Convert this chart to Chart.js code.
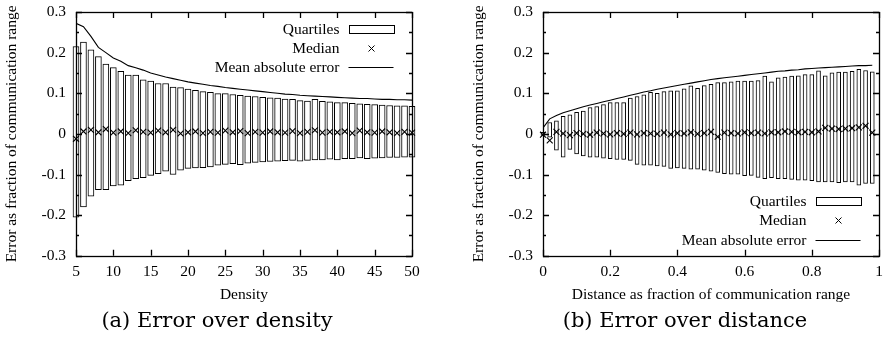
<!DOCTYPE html>
<html>
<head>
<meta charset="utf-8">
<script src="https://cdn.jsdelivr.net/npm/chart.js@4/dist/chart.umd.min.js"></script>
<style>
  html, body { margin: 0; padding: 0; background: #fff; }
  #wrap { position: relative; width: 886px; height: 340px; }
  .box { position: absolute; top: 0; width: 443px; height: 340px; }
  .caption { position: absolute; top: 307px; width: 320px; text-align: center;
             font-family: "DejaVu Serif", serif; font-size: 21px; line-height: 26px; color: #000; }
</style>
</head>
<body>
<div id="wrap">
  <div class="box" style="left:0"><canvas id="densityChart" width="443" height="340"></canvas></div>
  <div class="box" style="left:443px"><canvas id="distanceChart" width="443" height="340"></canvas></div>
  <div class="caption" style="left:57px">(a) Error over density</div>
  <div class="caption" style="left:525px">(b) Error over distance</div>
</div>
<script>
// (a) error over density
const densities = [5, 6, 7, 8, 9, 10, 11, 12, 13, 14, 15, 16, 17, 18, 19, 20, 21, 22, 23, 24, 25, 26, 27,
  28, 29, 30, 31, 32, 33, 34, 35, 36, 37, 38, 39, 40, 41, 42, 43, 44, 45, 46, 47, 48, 49, 50];
const densityQ1 = [-0.205, -0.180, -0.153, -0.137, -0.137, -0.128, -0.126, -0.115, -0.110, -0.108, -0.102,
  -0.098, -0.092, -0.100, -0.089, -0.085, -0.084, -0.083, -0.081, -0.077, -0.075, -0.073, -0.076, -0.072,
  -0.070, -0.069, -0.068, -0.067, -0.066, -0.065, -0.067, -0.065, -0.064, -0.064, -0.062, -0.064, -0.061,
  -0.061, -0.059, -0.061, -0.060, -0.059, -0.058, -0.058, -0.057, -0.057];
const densityQ3 = [0.215, 0.226, 0.207, 0.190, 0.172, 0.163, 0.154, 0.145, 0.145, 0.133, 0.130, 0.124,
  0.124, 0.115, 0.114, 0.110, 0.107, 0.104, 0.102, 0.099, 0.099, 0.097, 0.095, 0.093, 0.092, 0.090, 0.089,
  0.088, 0.086, 0.085, 0.082, 0.081, 0.085, 0.080, 0.079, 0.077, 0.077, 0.075, 0.074, 0.073, 0.072, 0.071,
  0.070, 0.069, 0.069, 0.068];
const densityMedian = [-0.012, 0.006, 0.010, 0.004, 0.012, 0.003, 0.006, 0.002, 0.009, 0.005, 0.003, 0.008,
  0.004, 0.010, 0.001, 0.004, 0.006, 0.002, 0.005, 0.003, 0.008, 0.004, 0.007, 0.002, 0.005, 0.003, 0.006,
  0.004, 0.003, 0.007, 0.002, 0.005, 0.009, 0.003, 0.005, 0.004, 0.006, 0.002, 0.008, 0.004, 0.003, 0.006,
  0.004, 0.002, 0.005, 0.003];
const densityMae = [0.272, 0.264, 0.240, 0.213, 0.200, 0.187, 0.179, 0.168, 0.163, 0.157, 0.150, 0.145,
  0.140, 0.136, 0.132, 0.128, 0.125, 0.122, 0.119, 0.117, 0.114, 0.112, 0.110, 0.108, 0.106, 0.104, 0.102,
  0.100, 0.098, 0.097, 0.095, 0.094, 0.093, 0.092, 0.091, 0.090, 0.089, 0.088, 0.087, 0.087, 0.086, 0.085,
  0.085, 0.084, 0.084, 0.083];

// (b) error over distance
const distances = [0, 0.02, 0.04, 0.06, 0.08, 0.10, 0.12, 0.14, 0.16, 0.18, 0.20, 0.22, 0.24, 0.26, 0.28,
  0.30, 0.32, 0.34, 0.36, 0.38, 0.40, 0.42, 0.44, 0.46, 0.48, 0.50, 0.52, 0.54, 0.56, 0.58, 0.60, 0.62, 0.64,
  0.66, 0.68, 0.70, 0.72, 0.74, 0.76, 0.78, 0.80, 0.82, 0.84, 0.86, 0.88, 0.90, 0.92, 0.94, 0.96, 0.98];
const distanceQ1 = [-0.004, -0.008, -0.040, -0.057, -0.038, -0.049, -0.054, -0.057, -0.057, -0.060, -0.061,
  -0.063, -0.063, -0.065, -0.075, -0.077, -0.077, -0.079, -0.080, -0.085, -0.084, -0.085, -0.087, -0.087,
  -0.089, -0.092, -0.095, -0.098, -0.099, -0.099, -0.103, -0.102, -0.107, -0.110, -0.108, -0.110, -0.110,
  -0.112, -0.114, -0.114, -0.115, -0.118, -0.118, -0.118, -0.120, -0.118, -0.118, -0.126, -0.122, -0.122];
const distanceQ3 = [0.004, 0.028, 0.032, 0.043, 0.047, 0.053, 0.056, 0.065, 0.067, 0.072, 0.077, 0.077,
  0.077, 0.088, 0.092, 0.096, 0.102, 0.100, 0.104, 0.106, 0.106, 0.111, 0.118, 0.112, 0.119, 0.122, 0.126,
  0.126, 0.128, 0.130, 0.130, 0.130, 0.131, 0.142, 0.128, 0.138, 0.140, 0.142, 0.143, 0.146, 0.146, 0.155,
  0.143, 0.150, 0.152, 0.152, 0.154, 0.159, 0.156, 0.153];
const distanceMedian = [-0.002, -0.016, 0.005, 0.001, -0.003, 0.002, 0.000, -0.002, 0.003, 0.001, -0.001,
  0.002, 0.000, 0.003, -0.001, 0.002, 0.001, 0.000, 0.003, -0.001, 0.002, 0.001, 0.004, 0.000, 0.002, 0.005,
  -0.007, 0.003, 0.002, 0.001, 0.004, 0.002, 0.003, 0.001, 0.004, 0.004, 0.006, 0.005, 0.004, 0.005, 0.004,
  0.006, 0.015, 0.013, 0.012, 0.013, 0.014, 0.016, 0.020, 0.003];
const distanceMae = [0.015, 0.037, 0.045, 0.052, 0.057, 0.062, 0.067, 0.071, 0.075, 0.079, 0.083, 0.087,
  0.091, 0.095, 0.099, 0.103, 0.106, 0.110, 0.113, 0.116, 0.119, 0.122, 0.125, 0.128, 0.131, 0.134, 0.136,
  0.138, 0.140, 0.142, 0.144, 0.146, 0.148, 0.150, 0.152, 0.154, 0.155, 0.157, 0.158, 0.160, 0.161, 0.162,
  0.163, 0.164, 0.165, 0.166, 0.167, 0.168, 0.168, 0.169];

// ticks and labels
const yTickValues = [-0.3, -0.2, -0.1, 0, 0.1, 0.2, 0.3];
const yTickLabels = ["-0.3", "-0.2", "-0.1", "0", "0.1", "0.2", "0.3"];
const yMinorTicks = [-0.25, -0.15, -0.05, 0.05, 0.15, 0.25];
const densityTicks = [5, 10, 15, 20, 25, 30, 35, 40, 45, 50];
const densityTickLabels = ["5", "10", "15", "20", "25", "30", "35", "40", "45", "50"];
const distanceTicks = [0, 0.2, 0.4, 0.6, 0.8, 1];
const distanceTickLabels = ["0", "0.2", "0.4", "0.6", "0.8", "1"];
const keyLabels = ["Quartiles", "Median", "Mean absolute error"];
const yTitle = "Error as fraction of communication range";

const SERIF = "'Liberation Serif', 'Times New Roman', serif";
Chart.defaults.font.family = SERIF;
Chart.defaults.font.size = 15.5;
Chart.defaults.color = "#000";

// gnuplot style border with inward ticks on all four sides
const framePlugin = {
  id: "frame",
  afterDatasetsDraw(chart, args, opts) {
    const { ctx, chartArea: a, scales } = chart;
    const x = scales.x, y = scales.y;
    ctx.save();
    ctx.strokeStyle = "#000";
    ctx.lineWidth = 1.3;
    ctx.beginPath();
    opts.xTicks.forEach(v => {
      const px = Math.round(x.getPixelForValue(v)) + 0.5;
      ctx.moveTo(px, a.bottom); ctx.lineTo(px, a.bottom - 6);
      ctx.moveTo(px, a.top); ctx.lineTo(px, a.top + 6);
    });
    yTickValues.forEach(v => {
      const py = Math.round(y.getPixelForValue(v)) + 0.5;
      ctx.moveTo(a.left, py); ctx.lineTo(a.left + 6, py);
      ctx.moveTo(a.right, py); ctx.lineTo(a.right - 6, py);
    });
    yMinorTicks.forEach(v => {
      const py = Math.round(y.getPixelForValue(v)) + 0.5;
      ctx.moveTo(a.left, py); ctx.lineTo(a.left + 3, py);
      ctx.moveTo(a.right, py); ctx.lineTo(a.right - 3, py);
    });
    ctx.stroke();
    ctx.strokeRect(Math.round(a.left) + 0.5, Math.round(a.top) + 0.5,
      Math.round(a.right - a.left), Math.round(a.bottom - a.top));
    ctx.restore();
  }
};

// key drawn inside the plot, like the gnuplot one
const keyPlugin = {
  id: "key",
  afterDraw(chart, args, opts) {
    const { ctx, chartArea: a } = chart;
    const textRight = a.right - 72.5;
    const s0 = a.right - 63.5, s1 = a.right - 18.5;
    const rows = opts.rows.map(r => (r >= 0 ? a.top + r : a.bottom + r));
    ctx.save();
    ctx.font = "15.5px " + SERIF;
    ctx.fillStyle = "#000";
    ctx.textAlign = "right";
    ctx.textBaseline = "middle";
    keyLabels.forEach((t, i) => ctx.fillText(t, textRight, rows[i] + 1));
    ctx.strokeStyle = "#000";
    ctx.lineWidth = 1;
    ctx.strokeRect(Math.round(s0) + 0.5, Math.round(rows[0] - 4) + 0.5, Math.round(s1 - s0), 8);
    const cx = Math.round((s0 + s1) / 2) + 0.5, cy = Math.round(rows[1]) + 0.5;
    ctx.beginPath();
    ctx.moveTo(cx - 3, cy - 3); ctx.lineTo(cx + 3, cy + 3);
    ctx.moveTo(cx - 3, cy + 3); ctx.lineTo(cx + 3, cy - 3);
    ctx.moveTo(s0, Math.round(rows[2]) + 0.5); ctx.lineTo(s1, Math.round(rows[2]) + 0.5);
    ctx.stroke();
    ctx.restore();
  }
};

function makeChart(id, xs, q1, q3, med, mae, cfg) {
  return new Chart(document.getElementById(id), {
    type: "bar",
    data: {
      datasets: [
        {
          type: "line",
          label: "Median",
          data: xs.map((x, i) => ({ x: x, y: med[i] })),
          showLine: false,
          pointStyle: "crossRot",
          pointRadius: 4.2,
          pointBorderWidth: 1.1,
          borderColor: "#000",
          backgroundColor: "#000",
          clip: false,
          order: 1
        },
        {
          type: "line",
          label: "Mean absolute error",
          data: xs.map((x, i) => ({ x: x, y: mae[i] })),
          borderColor: "#000",
          borderWidth: 1.1,
          pointRadius: 0,
          tension: 0,
          order: 2
        },
        {
          label: "Quartiles",
          data: xs.map((x, i) => ({ x: x, y: [q1[i], q3[i]] })),
          backgroundColor: "#fff",
          borderColor: "#000",
          borderWidth: 1,
          borderSkipped: false,
          barThickness: cfg.barWidth,
          clip: false,
          order: 3
        }
      ]
    },
    options: {
      responsive: false,
      animation: false,
      events: [],
      layout: { padding: cfg.padding },
      plugins: {
        legend: { display: false },
        tooltip: { enabled: false },
        frame: { xTicks: cfg.xTicks },
        key: { rows: cfg.keyRows }
      },
      scales: {
        x: {
          type: "linear",
          min: cfg.xMin,
          max: cfg.xMax,
          offset: false,
          grid: { display: false, drawTicks: false, tickLength: 0 },
          border: { display: false },
          afterBuildTicks: s => { s.ticks = cfg.xTicks.map(v => ({ value: v })); },
          afterFit: s => { s.paddingLeft = 0; s.paddingRight = 0; },
          ticks: { padding: 7, maxRotation: 0, autoSkip: false,
                   callback: (v, i) => cfg.xLabels[i] },
          title: { display: true, text: cfg.xTitle, padding: { top: -3, bottom: 0 } }
        },
        y: {
          min: -0.3,
          max: 0.3,
          grid: { display: false, drawTicks: false, tickLength: 0 },
          border: { display: false },
          afterBuildTicks: s => { s.ticks = yTickValues.map(v => ({ value: v })); },
          afterFit: s => { s.width = 76; s.paddingTop = 0; s.paddingBottom = 0; },
          ticks: { padding: 10, autoSkip: false, callback: (v, i) => yTickLabels[i] },
          title: { display: true, text: yTitle, padding: { top: 3, bottom: 0 } }
        }
      }
    },
    plugins: [framePlugin, keyPlugin]
  });
}

makeChart("densityChart", densities, densityQ1, densityQ3, densityMedian, densityMae, {
  barWidth: 6, xMin: 5, xMax: 50, xTicks: densityTicks, xLabels: densityTickLabels,
  xTitle: "Density", keyRows: [17, 36.3, 55.3],
  padding: { left: 0, right: 31, top: 12, bottom: 36 }
});
makeChart("distanceChart", distances, distanceQ1, distanceQ3, distanceMedian, distanceMae, {
  barWidth: 4, xMin: 0, xMax: 1, xTicks: distanceTicks, xLabels: distanceTickLabels,
  xTitle: "Distance as fraction of communication range", keyRows: [-55, -35.7, -15.7],
  padding: { left: 24, right: 7, top: 12, bottom: 36 }
});
</script>
</body>
</html>
